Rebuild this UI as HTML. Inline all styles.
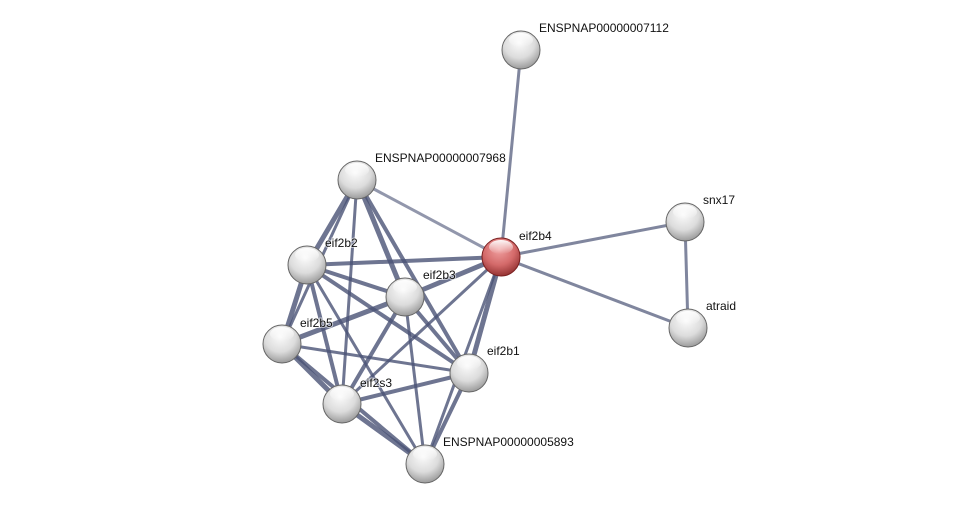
<!DOCTYPE html>
<html><head><meta charset="utf-8"><style>
html,body{margin:0;padding:0;background:#fff;width:975px;height:510px;overflow:hidden}
text{font-family:"Liberation Sans",sans-serif;font-size:12px;fill:#111;paint-order:stroke;stroke:#fff;stroke-width:2px;stroke-opacity:0.6}
</style></head><body>
<svg width="975" height="510" viewBox="0 0 975 510" xmlns="http://www.w3.org/2000/svg">
<defs>
<radialGradient id="g" cx="0.45" cy="0.3" r="0.75">
<stop offset="0" stop-color="#fbfbfb"/><stop offset="0.55" stop-color="#dcdcdc"/><stop offset="1" stop-color="#909090"/>
</radialGradient>
<radialGradient id="r" cx="0.45" cy="0.3" r="0.75">
<stop offset="0" stop-color="#f0a0a0"/><stop offset="0.55" stop-color="#d46a6a"/><stop offset="1" stop-color="#8a2a2a"/>
</radialGradient>
<linearGradient id="h" x1="0" y1="0" x2="0" y2="1">
<stop offset="0" stop-color="#fff" stop-opacity="0.95"/><stop offset="1" stop-color="#fff" stop-opacity="0"/>
</linearGradient>
</defs>
<g stroke="#4a5275" stroke-opacity="0.8" stroke-width="3" stroke-linecap="round">
<line x1="501" y1="257" x2="521" y2="50" stroke-opacity="0.7"/>
<line x1="501" y1="257" x2="357" y2="180" stroke-opacity="0.6"/>
<line x1="501" y1="257" x2="685" y2="222" stroke-opacity="0.7"/>
<line x1="501" y1="257" x2="688" y2="328" stroke-opacity="0.7"/>
<line x1="685" y1="222" x2="688" y2="328" stroke-opacity="0.7"/>
<line x1="501" y1="257" x2="307" y2="265" stroke-width="4"/>
<line x1="501" y1="257" x2="405" y2="297" stroke-width="5"/>
<line x1="501" y1="257" x2="469" y2="373" stroke-width="5"/>
<line x1="501" y1="257" x2="342" y2="404"/>
<line x1="501" y1="257" x2="425" y2="464"/>
<line x1="357" y1="180" x2="307" y2="265" stroke-width="5"/>
<line x1="357" y1="180" x2="405" y2="297" stroke-width="5"/>
<line x1="357" y1="180" x2="282" y2="344"/>
<line x1="357" y1="180" x2="469" y2="373" stroke-width="4"/>
<line x1="357" y1="180" x2="342" y2="404"/>
<line x1="307" y1="265" x2="405" y2="297" stroke-width="4"/>
<line x1="307" y1="265" x2="282" y2="344" stroke-width="5"/>
<line x1="307" y1="265" x2="469" y2="373" stroke-width="4"/>
<line x1="307" y1="265" x2="342" y2="404" stroke-width="4"/>
<line x1="307" y1="265" x2="425" y2="464"/>
<line x1="405" y1="297" x2="282" y2="344" stroke-width="5"/>
<line x1="405" y1="297" x2="469" y2="373" stroke-width="4"/>
<line x1="405" y1="297" x2="342" y2="404" stroke-width="4"/>
<line x1="405" y1="297" x2="425" y2="464"/>
<line x1="282" y1="344" x2="469" y2="373"/>
<line x1="282" y1="344" x2="342" y2="404" stroke-width="5"/>
<line x1="282" y1="344" x2="425" y2="464" stroke-width="4"/>
<line x1="469" y1="373" x2="342" y2="404" stroke-width="4"/>
<line x1="469" y1="373" x2="425" y2="464" stroke-width="4"/>
<line x1="342" y1="404" x2="425" y2="464" stroke-width="5"/>
</g>
<g stroke="#666" stroke-width="1">
<circle cx="521" cy="50" r="19" fill="url(#g)"/>
<circle cx="357" cy="180" r="19" fill="url(#g)"/>
<circle cx="685" cy="222" r="19" fill="url(#g)"/>
<circle cx="688" cy="328" r="19" fill="url(#g)"/>
<circle cx="307" cy="265" r="19" fill="url(#g)"/>
<circle cx="405" cy="297" r="19" fill="url(#g)"/>
<circle cx="282" cy="344" r="19" fill="url(#g)"/>
<circle cx="469" cy="373" r="19" fill="url(#g)"/>
<circle cx="342" cy="404" r="19" fill="url(#g)"/>
<circle cx="425" cy="464" r="19" fill="url(#g)"/>
<circle cx="501" cy="257" r="19" fill="url(#r)" stroke="#7a2020"/>
</g>
<g fill="url(#h)">
<ellipse cx="521" cy="40" rx="12" ry="7"/>
<ellipse cx="357" cy="170" rx="12" ry="7"/>
<ellipse cx="685" cy="212" rx="12" ry="7"/>
<ellipse cx="688" cy="318" rx="12" ry="7"/>
<ellipse cx="307" cy="255" rx="12" ry="7"/>
<ellipse cx="405" cy="287" rx="12" ry="7"/>
<ellipse cx="282" cy="334" rx="12" ry="7"/>
<ellipse cx="469" cy="363" rx="12" ry="7"/>
<ellipse cx="342" cy="394" rx="12" ry="7"/>
<ellipse cx="425" cy="454" rx="12" ry="7"/>
<ellipse cx="501" cy="247" rx="12" ry="7"/>
</g>
<text x="539" y="32">ENSPNAP00000007112</text>
<text x="375" y="162">ENSPNAP00000007968</text>
<text x="519" y="240">eif2b4</text>
<text x="703" y="204">snx17</text>
<text x="706" y="310">atraid</text>
<text x="325" y="247">eif2b2</text>
<text x="423" y="279">eif2b3</text>
<text x="300" y="327">eif2b5</text>
<text x="487" y="355">eif2b1</text>
<text x="360" y="387">eif2s3</text>
<text x="443" y="446">ENSPNAP00000005893</text>
</svg>
</body></html>
